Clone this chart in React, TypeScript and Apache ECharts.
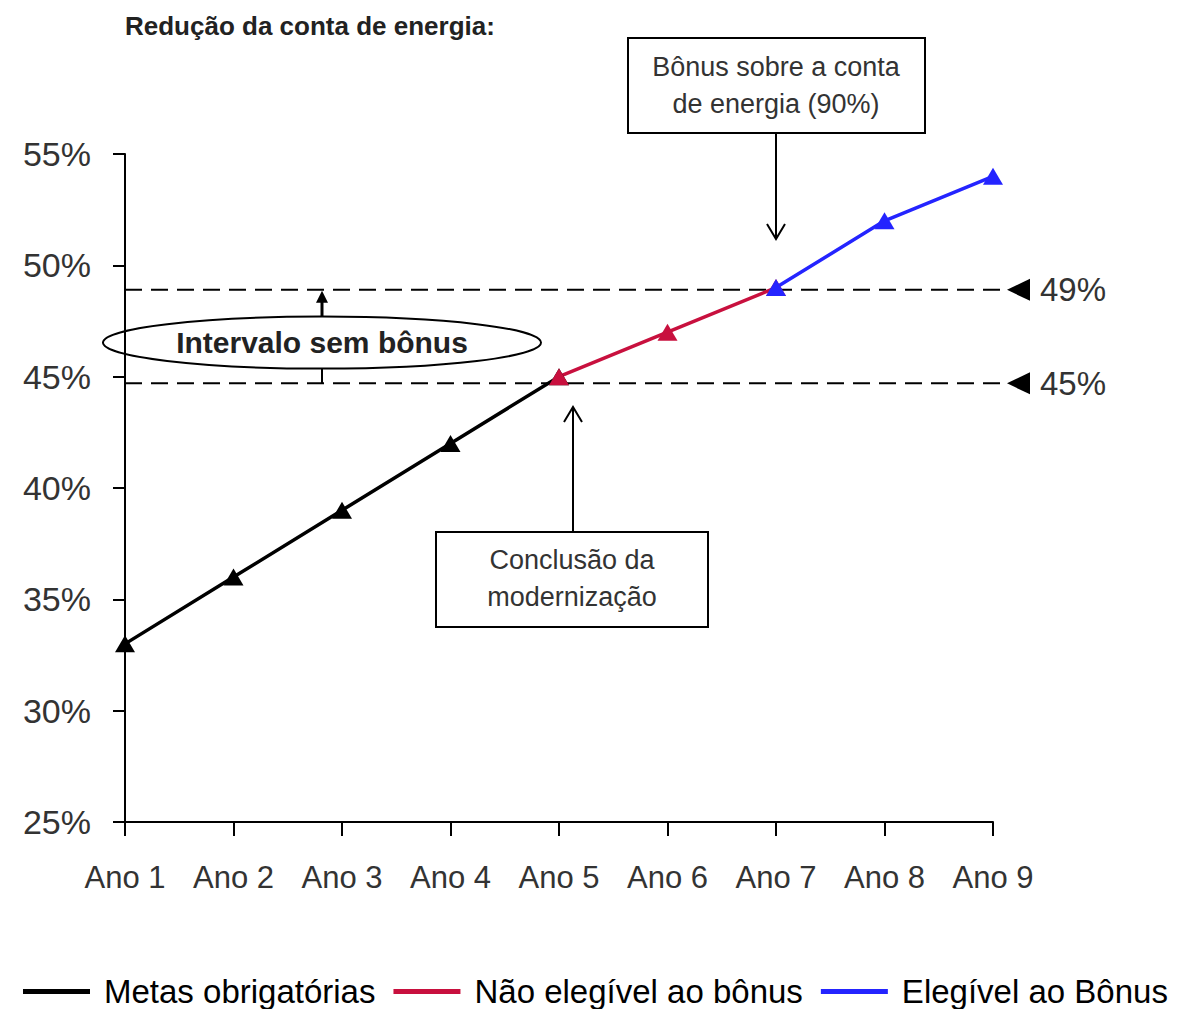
import React, { useEffect, useRef } from "react";
import * as echarts from "echarts";

const categories = ["Ano 1", "Ano 2", "Ano 3", "Ano 4", "Ano 5", "Ano 6", "Ano 7", "Ano 8", "Ano 9"];
const metasObrigatorias = [33, 36, 39, 42, 45, null, null, null, null];
const naoElegivel = [null, null, null, null, 45, 47, 49, null, null];
const elegivel = [null, null, null, null, null, null, 49, 52, 54];
const seriesNames = ["Metas obrigatórias", "Não elegível ao bônus", "Elegível ao Bônus"];
const seriesColors = ["#000000", "#C8103E", "#2424FF"];
const thresholdLevels = [48.9, 44.7];
const thresholdLabels = ["49%", "45%"];
const yMin = 25;
const yMax = 55;
const yInterval = 5;

const FONT = "'Liberation Sans', Arial, sans-serif";
const TXT = "#333333";

export default function App() {
  const ref = useRef<HTMLDivElement>(null);
  useEffect(() => {
    document.body.style.margin = "0";
    const chart = echarts.init(ref.current!, null, { renderer: "svg" });
    const mk = (name: string, data: (number | null)[], color: string) => ({
      name,
      type: "line",
      data,
      symbol: "triangle",
      symbolSize: [20, 17],
      showSymbol: true,
      lineStyle: { color, width: 3.5 },
      itemStyle: { color },
      connectNulls: false,
    });
    chart.setOption({
      animation: false,
      title: {
        text: "Redução da conta de energia:",
        left: 120,
        top: 8,
        textStyle: { fontFamily: FONT, fontSize: 26, fontWeight: "bold", color: "#222" },
      },
      grid: { left: 125, right: 204, top: 154, bottom: 187, containLabel: false },
      xAxis: {
        type: "category",
        data: categories,
        boundaryGap: false,
        axisLine: { lineStyle: { color: "#000", width: 2 } },
        axisTick: { length: 14, lineStyle: { color: "#000", width: 2 } },
        axisLabel: { fontFamily: FONT, fontSize: 31, color: TXT, margin: 40 },
        splitLine: { show: false },
      },
      yAxis: {
        type: "value",
        min: yMin,
        max: yMax,
        interval: yInterval,
        axisLine: { show: true, lineStyle: { color: "#000", width: 2 } },
        axisTick: { show: true, length: 12, lineStyle: { color: "#000", width: 2 } },
        axisLabel: { fontFamily: FONT, fontSize: 34, color: TXT, margin: 34, formatter: "{value}%" },
        splitLine: { show: false },
      },
      legend: {
        left: 18,
        top: 970,
        itemWidth: 67,
        itemHeight: 5,
        itemGap: 18,
        data: seriesNames.map((n) => ({ name: n, icon: "rect" })),
        textStyle: { fontFamily: FONT, fontSize: 33, color: "#000", padding: [0, 0, 0, 9] },
      },
      series: [
        mk(seriesNames[0], metasObrigatorias, seriesColors[0]),
        mk(seriesNames[1], naoElegivel, seriesColors[1]),
        mk(seriesNames[2], elegivel, seriesColors[2]),
      ],
    });

    const xAt = (i: number) => chart.convertToPixel({ xAxisIndex: 0 }, categories[i]) as number;
    const yAt = (v: number) => chart.convertToPixel({ yAxisIndex: 0 }, v) as number;
    const x0 = xAt(0);
    const xEnd = xAt(categories.length - 1) + 8;
    const yHi = yAt(thresholdLevels[0]);
    const yLo = yAt(thresholdLevels[1]);
    const ax7 = xAt(6);
    const ax5 = xAt(4) + 14;
    const ex = 322;
    const ey = (yHi + yLo) / 2;

    const els: any[] = [];
    thresholdLevels.forEach((lv, i) => {
      const y = yAt(lv);
      els.push({
        type: "line",
        shape: { x1: x0, y1: y, x2: xEnd, y2: y },
        style: { stroke: "#000", lineWidth: 2, lineDash: [17, 9] },
      });
      els.push({
        type: "polygon",
        shape: { points: [[1007, y], [1030, y - 11], [1030, y + 11]] },
        style: { fill: "#000" },
      });
      els.push({
        type: "text",
        x: 1040,
        y,
        style: { text: thresholdLabels[i], fontFamily: FONT, fontSize: 33, fill: TXT, verticalAlign: "middle", align: "left" },
      });
    });
    // ellipse annotation
    els.push({
      type: "line",
      shape: { x1: ex, y1: ey - 20, x2: ex, y2: yHi + 10 },
      style: { stroke: "#000", lineWidth: 3 },
    });
    els.push({
      type: "polygon",
      shape: { points: [[ex, yHi + 1], [ex - 6, yHi + 13], [ex + 6, yHi + 13]] },
      style: { fill: "#000" },
    });
    els.push({
      type: "line",
      shape: { x1: ex, y1: ey + 20, x2: ex, y2: yLo },
      style: { stroke: "#000", lineWidth: 2 },
    });
    els.push({
      type: "ellipse",
      shape: { cx: ex, cy: ey + 6, rx: 219, ry: 26 },
      style: { fill: "#fff", stroke: "#000", lineWidth: 2 },
    });
    els.push({
      type: "text",
      x: ex,
      y: ey + 6,
      style: { text: "Intervalo sem bônus", fontFamily: FONT, fontSize: 30, fontWeight: "bold", fill: "#222", align: "center", verticalAlign: "middle" },
    });
    // box 1
    els.push({
      type: "line",
      shape: { x1: ax7, y1: 133, x2: ax7, y2: 238 },
      style: { stroke: "#000", lineWidth: 2 },
    });
    els.push({
      type: "polyline",
      shape: { points: [[ax7 - 9, 224], [ax7, 239], [ax7 + 9, 224]] },
      style: { stroke: "#000", lineWidth: 2, fill: "none" },
    });
    els.push({
      type: "rect",
      shape: { x: 628, y: 38, width: 297, height: 95 },
      style: { fill: "#fff", stroke: "#000", lineWidth: 2 },
    });
    els.push({
      type: "text",
      x: 776,
      y: 85,
      style: { text: "Bônus sobre a conta\nde energia (90%)", fontFamily: FONT, fontSize: 27, lineHeight: 37, fill: TXT, align: "center", verticalAlign: "middle" },
    });
    // box 2
    els.push({
      type: "line",
      shape: { x1: ax5, y1: 532, x2: ax5, y2: 408 },
      style: { stroke: "#000", lineWidth: 2 },
    });
    els.push({
      type: "polyline",
      shape: { points: [[ax5 - 9, 422], [ax5, 407], [ax5 + 9, 422]] },
      style: { stroke: "#000", lineWidth: 2, fill: "none" },
    });
    els.push({
      type: "rect",
      shape: { x: 436, y: 532, width: 272, height: 95 },
      style: { fill: "#fff", stroke: "#000", lineWidth: 2 },
    });
    els.push({
      type: "text",
      x: 572,
      y: 578,
      style: { text: "Conclusão da\nmodernização", fontFamily: FONT, fontSize: 27, lineHeight: 37, fill: TXT, align: "center", verticalAlign: "middle" },
    });
    chart.setOption({ graphic: { elements: els } });

    return () => chart.dispose();
  }, []);
  return <div ref={ref} style={{ width: 1197, height: 1009 }} />;
}
